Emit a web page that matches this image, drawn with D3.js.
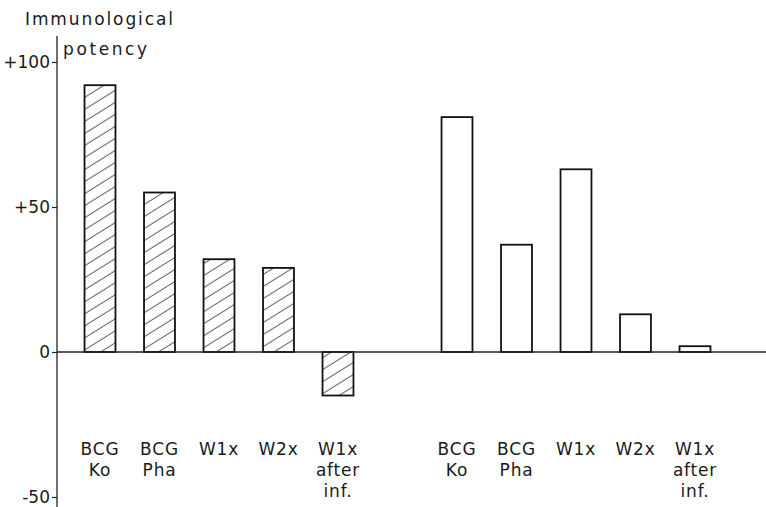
<!DOCTYPE html>
<html>
<head>
<meta charset="utf-8">
<script src="https://cdn.jsdelivr.net/npm/d3@7"></script>
<style>
  html, body { margin: 0; padding: 0; background: #fff; }
  svg { display: block; }
  text { font-family: "DejaVu Sans", sans-serif; fill: #1a1a1a; }
</style>
</head>
<body>
<svg id="chart" width="766" height="507"></svg>
<script>
// Immunological potency of vaccines, two experiments side by side
const categoryLabels = [["BCG", "Ko"], ["BCG", "Pha"], ["W1x"], ["W2x"], ["W1x", "after", "inf."]];
const hatchedValues = [92, 55, 32, 29, -15];
const openValues = [81, 37, 63, 13, 2];
const yTickValues = [-50, 0, 50, 100];
const yTickLabels = ["-50", "0", "+50", "+100"];
const titleLines = ["Immunological", "potency"];

// slot positions: five hatched bars, an empty slot, five open bars
const slots = d3.range(11);
const bars = [
  ...hatchedValues.map((v, i) => ({ slot: i, value: v, labels: categoryLabels[i], hatched: true })),
  ...openValues.map((v, i) => ({ slot: i + 6, value: v, labels: categoryLabels[i], hatched: false }))
];

const svg = d3.select("#chart");
const axisX = 57;

const x = d3.scaleBand().domain(slots).range([70.25, 724.75]).paddingInner(0.48).paddingOuter(0.24);
const y = d3.scaleLinear().domain([-50, 100]).range([497, 62]);

// diagonal hatch
const defs = svg.append("defs");
defs.append("pattern")
  .attr("id", "hatch")
  .attr("patternUnits", "userSpaceOnUse")
  .attr("width", 10).attr("height", 10.2)
  .attr("patternTransform", "rotate(-32)")
  .append("line")
  .attr("x1", 0).attr("x2", 10).attr("y1", 5).attr("y2", 5)
  .attr("stroke", "#444").attr("stroke-width", 0.9);

// bars
svg.append("g").selectAll("rect")
  .data(bars).join("rect")
  .attr("x", d => x(d.slot))
  .attr("width", x.bandwidth())
  .attr("y", d => y(Math.max(0, d.value)))
  .attr("height", d => Math.abs(y(d.value) - y(0)))
  .attr("fill", d => d.hatched ? "url(#hatch)" : "#fff")
  .attr("stroke", "#111")
  .attr("stroke-width", 1.8);

// zero baseline across the plot
svg.append("line")
  .attr("x1", axisX).attr("x2", 766)
  .attr("y1", y(0)).attr("y2", y(0))
  .attr("stroke", "#222").attr("stroke-width", 1.5);

// y axis
const yAxis = d3.axisLeft(y)
  .tickValues(yTickValues)
  .tickFormat((d, i) => yTickLabels[i])
  .tickSize(5)
  .tickPadding(2);
const gy = svg.append("g").attr("transform", `translate(${axisX},0)`).call(yAxis);
gy.select(".domain").remove();
gy.selectAll(".tick line").attr("stroke", "#222").attr("stroke-width", 1.2);
gy.selectAll(".tick text")
  .attr("font-family", "DejaVu Sans, sans-serif")
  .attr("font-size", 17)
  .attr("fill", "#1a1a1a");
svg.append("line")
  .attr("x1", axisX).attr("x2", axisX)
  .attr("y1", 36).attr("y2", 507)
  .attr("stroke", "#222").attr("stroke-width", 1.3);

// axis title
svg.append("text").attr("x", 25).attr("y", 25)
  .attr("font-size", 17).attr("letter-spacing", 1.9)
  .text(titleLines[0]);
svg.append("text").attr("x", 63).attr("y", 55)
  .attr("font-size", 17).attr("letter-spacing", 2.6)
  .text(titleLines[1]);

// category labels under each bar
const lab = svg.append("g").selectAll("text")
  .data(bars).join("text")
  .attr("text-anchor", "middle")
  .attr("font-size", 17)
  .attr("letter-spacing", 0.8)
  .attr("transform", d => `translate(${x(d.slot) + x.bandwidth() / 2},455)`);
lab.selectAll("tspan")
  .data(d => d.labels).join("tspan")
  .attr("x", 0)
  .attr("y", (d, i) => i * 21)
  .text(d => d);
</script>
</body>
</html>
